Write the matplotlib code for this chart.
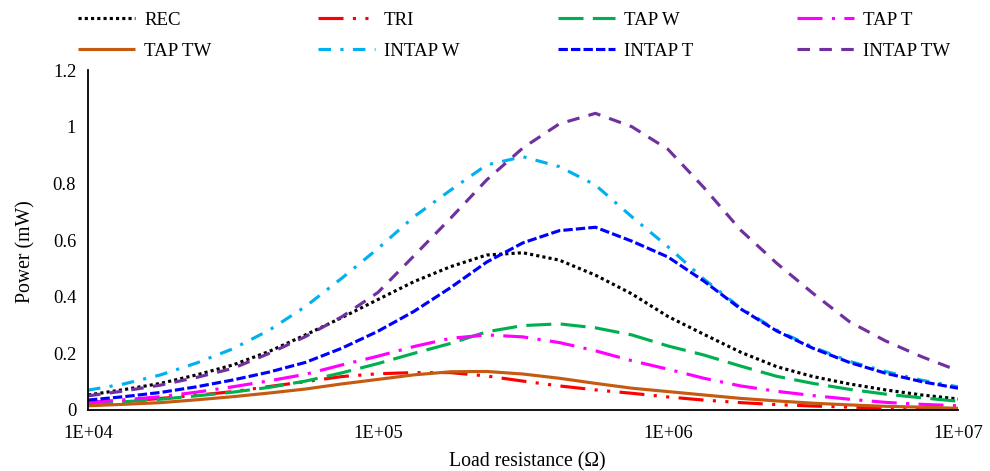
import matplotlib
matplotlib.use("Agg")
import matplotlib.pyplot as plt
from matplotlib.ticker import FixedLocator, FixedFormatter, NullLocator

plt.rcParams['font.family'] = ['Liberation Serif', 'DejaVu Serif']

# Load resistance (Ohm)
resistance = [1.00e4, 1.33e4, 1.78e4, 2.37e4, 3.16e4, 4.22e4, 5.62e4, 7.50e4, 1.00e5,
              1.33e5, 1.78e5, 2.37e5, 3.16e5, 4.22e5, 5.62e5, 7.50e5, 1.00e6,
              1.33e6, 1.78e6, 2.37e6, 3.16e6, 4.22e6, 5.62e6, 7.50e6, 1.00e7]

# Power (mW)
rec      = [0.053, 0.072, 0.094, 0.124, 0.159, 0.207, 0.265, 0.326, 0.390,
            0.453, 0.506, 0.547, 0.555, 0.529, 0.476, 0.410, 0.330,
            0.267, 0.204, 0.153, 0.118, 0.092, 0.071, 0.053, 0.039]
tri      = [0.020, 0.030, 0.041, 0.052, 0.065, 0.083, 0.100, 0.118, 0.128,
            0.132, 0.132, 0.120, 0.102, 0.085, 0.071, 0.059, 0.046,
            0.035, 0.026, 0.019, 0.014, 0.010, 0.007, 0.005, 0.004]
tap_w    = [0.022, 0.029, 0.038, 0.050, 0.063, 0.080, 0.102, 0.131, 0.164,
            0.200, 0.235, 0.276, 0.298, 0.304, 0.290, 0.265, 0.226,
            0.194, 0.155, 0.119, 0.094, 0.073, 0.056, 0.043, 0.031]
tap_t    = [0.027, 0.036, 0.047, 0.063, 0.082, 0.103, 0.126, 0.159, 0.190,
            0.224, 0.253, 0.265, 0.258, 0.238, 0.209, 0.174, 0.144,
            0.112, 0.085, 0.066, 0.051, 0.038, 0.027, 0.020, 0.015]
tap_tw   = [0.015, 0.020, 0.026, 0.036, 0.047, 0.060, 0.074, 0.092, 0.108,
            0.124, 0.135, 0.136, 0.127, 0.112, 0.094, 0.077, 0.065,
            0.053, 0.041, 0.032, 0.024, 0.018, 0.013, 0.010, 0.006]
intap_w  = [0.070, 0.092, 0.124, 0.166, 0.216, 0.282, 0.365, 0.465, 0.570,
            0.682, 0.776, 0.865, 0.894, 0.859, 0.794, 0.682, 0.576,
            0.462, 0.360, 0.282, 0.222, 0.172, 0.136, 0.105, 0.082]
intap_t  = [0.035, 0.047, 0.062, 0.082, 0.106, 0.134, 0.168, 0.218, 0.278,
            0.348, 0.432, 0.522, 0.590, 0.633, 0.645, 0.596, 0.540,
            0.455, 0.357, 0.279, 0.218, 0.168, 0.130, 0.100, 0.077]
intap_tw = [0.050, 0.067, 0.088, 0.115, 0.147, 0.200, 0.259, 0.329, 0.415,
            0.544, 0.677, 0.812, 0.925, 1.010, 1.047, 1.000, 0.920,
            0.785, 0.635, 0.518, 0.412, 0.312, 0.244, 0.188, 0.139]

names = ["REC", "TRI", "TAP W", "TAP T", "TAP TW", "INTAP W", "INTAP T", "INTAP TW"]
values = [rec, tri, tap_w, tap_t, tap_tw, intap_w, intap_t, intap_tw]
colors = ["#000000", "#FF0000", "#00B050", "#FF00FF", "#C55A11", "#00B0F0", "#0000FF", "#7030A0"]
styles = [(0, (1, 1)), (0, (8, 3, 1, 3, 1, 3)), (0, (8, 3)), (0, (8, 3, 1, 3)),
          "-", (0, (4, 3, 1, 3)), (0, (3, 1)), (0, (4, 3))]

x_ticks = [1e4, 1e5, 1e6, 1e7]
x_tick_labels = ["1E+04", "1E+05", "1E+06", "1E+07"]
y_ticks = [0, 0.2, 0.4, 0.6, 0.8, 1.0, 1.2]
y_tick_labels = ["0", "0.2", "0.4", "0.6", "0.8", "1", "1.2"]

W, H = 990, 471
fig = plt.figure(figsize=(W / 100, H / 100), dpi=100)
ax = fig.add_axes([88 / W, 1 - 410 / H, 870 / W, 340 / H])

lines = []
for name, vals, col, ls in zip(names, values, colors, styles):
    ln, = ax.plot(resistance, vals, color=col, linestyle=ls, linewidth=2.25,
                  label=name, solid_capstyle='butt', dash_capstyle='butt',
                  solid_joinstyle='round', dash_joinstyle='round')
    lines.append(ln)

ax.set_xscale('log')
ax.set_xlim(1e4, 1e7)
ax.set_ylim(0, 1.2)
ax.xaxis.set_major_locator(FixedLocator(x_ticks))
ax.xaxis.set_major_formatter(FixedFormatter(x_tick_labels))
ax.xaxis.set_minor_locator(NullLocator())
ax.yaxis.set_major_locator(FixedLocator(y_ticks))
ax.yaxis.set_major_formatter(FixedFormatter(y_tick_labels))
ax.tick_params(axis='both', length=0, labelsize=13.3)
ax.tick_params(axis='y', pad=8.5)
ax.tick_params(axis='x', pad=11)

for s in ['top', 'right']:
    ax.spines[s].set_visible(False)
for s in ['left', 'bottom']:
    ax.spines[s].set_linewidth(1.3)
    ax.spines[s].set_color('black')

ax.set_xlabel("Load resistance (Ω)", fontsize=14.2)
ax.xaxis.set_label_coords(0.505, -0.153)
ax.xaxis.label.set_va('center')
ax.set_ylabel("Power (mW)", fontsize=14.2)
ax.yaxis.set_label_coords(-0.072, 0.465)
ax.yaxis.label.set_va('center')

# Legend entries placed in a 2 x 4 grid above the plot
col_x = [78, 318, 558, 797]
row_y = [20, 51]
order = [[0, 1, 2, 3], [4, 5, 6, 7]]
for r, row in enumerate(order):
    for c, idx in enumerate(row):
        fig.legend([lines[idx]], [names[idx]], loc='center left',
                   bbox_to_anchor=(col_x[c] / W, 1 - row_y[r] / H),
                   bbox_transform=fig.transFigure, frameon=False,
                   handlelength=3.0, handletextpad=0.5, borderpad=0,
                   borderaxespad=0, prop={'size': 13.6})

fig.savefig("out.png", dpi=100)
